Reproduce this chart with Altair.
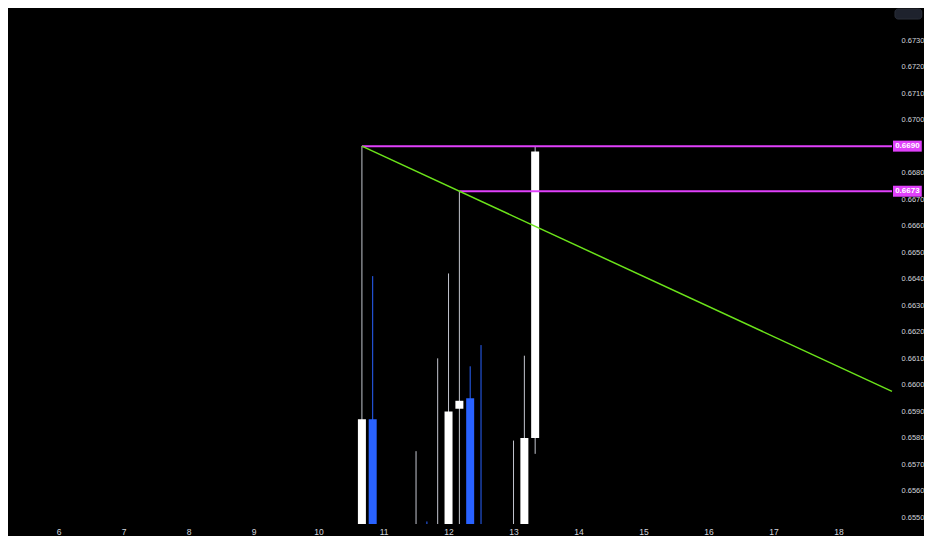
import altair as alt
import pandas as pd

# ---- data (4-hour candles, x = day of month) ----
times  = [10.667, 10.833, 11.5, 11.667, 11.833, 12.0, 12.167, 12.333, 12.5, 13.0, 13.167, 13.333]
opens  = [0.6535, 0.6587, 0.6538, 0.6541, 0.6536, 0.6540, 0.6591, 0.6595, 0.6543, 0.6538, 0.6540, 0.6580]
highs  = [0.6690, 0.6641, 0.6575, 0.65485, 0.6610, 0.6642, 0.6673, 0.6607, 0.6615, 0.6579, 0.6611, 0.6690]
lows   = [0.6530, 0.6530, 0.6530, 0.6530, 0.6530, 0.6530, 0.6530, 0.6530, 0.6530, 0.6530, 0.6530, 0.6574]
closes = [0.6587, 0.6535, 0.6542, 0.6536, 0.6544, 0.6590, 0.6594, 0.6540, 0.6538, 0.6542, 0.6580, 0.6688]

level_prices = [0.6690, 0.6673]
level_starts = [10.667, 12.167]
level_labels = ["0.6690", "0.6673"]

trend_x = [10.667, 12.167]
trend_y = [0.6690, 0.6673]

x_ticks = [6, 7, 8, 9, 10, 11, 12, 13, 14, 15, 16, 17, 18]
# 0.6690 is covered by its price tag, as in the reference
y_ticks = [0.6550, 0.6560, 0.6570, 0.6580, 0.6590, 0.6600, 0.6610, 0.6620, 0.6630, 0.6640,
           0.6650, 0.6660, 0.6670, 0.6680, 0.6700, 0.6710, 0.6720, 0.6730]

X_MIN, X_MAX = 5.298, 18.824
Y_MIN, Y_MAX = 0.654755, 0.674170
PX = 1 / 65.5  # one pixel in day units, for the price-tag boxes beyond the plot edge

MAGENTA = "#e040fb"
GREEN = "#6be31a"
UP, DOWN = "#ffffff", "#2962ff"
UP_WICK = "#c3c6cf"

df = pd.DataFrame({"t": times, "open": opens, "high": highs, "low": lows, "close": closes})

n = len(level_prices)
levels = pd.DataFrame({"price": level_prices, "start": level_starts, "label": level_labels,
                       "end": [X_MAX] * n,
                       "tag0": [X_MAX + 1 * PX] * n,
                       "tag1": [X_MAX + 30 * PX] * n,
                       "tagc": [X_MAX + 15.5 * PX] * n})

# trend ray through the two anchors, extended to the right edge
slope = (trend_y[1] - trend_y[0]) / (trend_x[1] - trend_x[0])
trend = pd.DataFrame({"t": [trend_x[0], X_MAX],
                      "p": [trend_y[0], trend_y[0] + slope * (X_MAX - trend_x[0])]})

xs = alt.Scale(domain=[X_MIN, X_MAX], nice=False, zero=False)
ys = alt.Scale(domain=[Y_MIN, Y_MAX], nice=False, zero=False)

x_axis = alt.Axis(values=x_ticks, format="d", title=None, labelPadding=3, orient="bottom",
                  labelOverlap=False, labelFontSize=8.5)
y_axis = alt.Axis(values=y_ticks, format=".4f", title=None, orient="right", labelPadding=4,
                  labelAlign="left", labelOverlap=False, labelFontSize=7.5)


def X(field):
    return alt.X(field, scale=xs, axis=x_axis)


def Y(field):
    return alt.Y(field, scale=ys, axis=y_axis)


is_up = alt.datum.close >= alt.datum.open

base = alt.Chart(df)

wicks = base.mark_rule(strokeWidth=1, clip=True).encode(
    x=X("t:Q"), y=Y("low:Q"), y2="high:Q",
    color=alt.condition(is_up, alt.value(UP_WICK), alt.value(DOWN)),
)

bodies = base.mark_bar(width=8, clip=True).encode(
    x=X("t:Q"), y=Y("open:Q"), y2="close:Q",
    color=alt.condition(is_up, alt.value(UP), alt.value(DOWN)),
)

level_lines = alt.Chart(levels).mark_rule(color=MAGENTA, strokeWidth=2, clip=True).encode(
    x=X("start:Q"), x2="end:Q", y=Y("price:Q"),
)

trend_line = alt.Chart(trend).mark_line(color=GREEN, strokeWidth=1.5, clip=True).encode(
    x=X("t:Q"), y=Y("p:Q"),
)

tags = alt.Chart(levels).mark_rect(color=MAGENTA, height=11).encode(
    y=Y("price:Q"), x=X("tag0:Q"), x2="tag1:Q",
)

tag_text = alt.Chart(levels).mark_text(color="white", fontSize=8, font="Liberation Sans",
                                       fontWeight="bold", align="center", baseline="middle").encode(
    y=Y("price:Q"), x=X("tagc:Q"), text="label:N",
)

button_df = pd.DataFrame({"b0": [X_MAX + 3 * PX], "b1": [X_MAX + 30 * PX]})
button = alt.Chart(button_df).mark_rect(
    fill="#1e222d", stroke="#2a2e39", strokeWidth=1, cornerRadius=3
).encode(x=X("b0:Q"), x2="b1:Q", y=alt.value(0), y2=alt.value(10))

chart = alt.layer(wicks, bodies, level_lines, trend_line, tags, tag_text, button).properties(
    width=916, height=528, padding=0, background="#000000",
    autosize=alt.AutoSizeParams(type="fit", contains="padding"),
).configure_view(stroke=None).configure_axis(
    domain=False, ticks=False, grid=False, labelColor="#d1d4dc",
    labelFont="Liberation Sans"
)

chart.save("out.html", embed_options={"renderer": "svg", "actions": False})
